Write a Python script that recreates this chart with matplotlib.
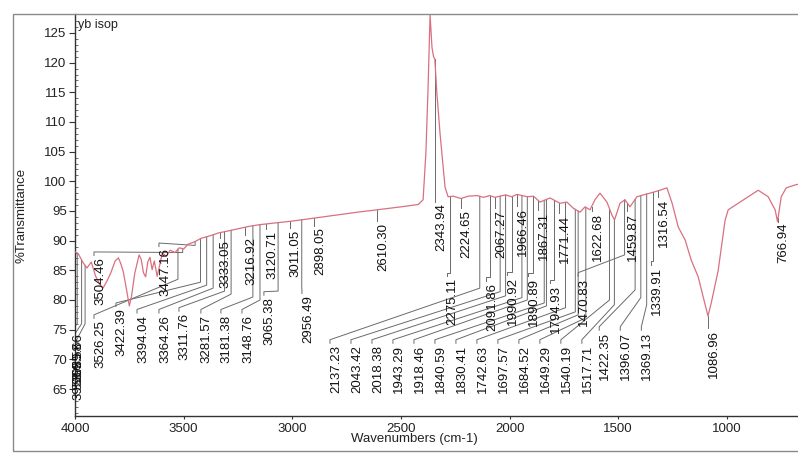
import numpy as np
import matplotlib
matplotlib.use("Agg")
import matplotlib.pyplot as plt
from matplotlib.patches import Rectangle

plt.rcParams['font.family'] = ['Liberation Sans', 'DejaVu Sans']

# ---------------- spectrum ----------------
wavenumber = [4000, 3985, 3963, 3945, 3925, 3905, 3885, 3871, 3850, 3835, 3815, 3800,
              3790, 3778, 3765, 3750, 3740, 3725, 3705, 3695, 3685, 3675, 3665, 3655,
              3645, 3635, 3622, 3610, 3598, 3580, 3562, 3540, 3520, 3500, 3480, 3450,
              3420, 3380, 3340, 3300, 3250, 3200, 3150, 3100, 3050, 3000, 2900, 2800,
              2700, 2610, 2500, 2420, 2398, 2385, 2375, 2366, 2357, 2350, 2344,
              2335, 2320, 2297, 2283, 2260, 2224, 2190, 2150, 2120, 2091, 2067,
              2043, 2018, 1990, 1966, 1943, 1918, 1890, 1860, 1814, 1768, 1736, 1708,
              1676, 1653, 1630, 1607, 1584, 1552, 1529, 1517, 1492, 1469, 1446, 1414,
              1386, 1354, 1308, 1276, 1252, 1224, 1192, 1164, 1132, 1109, 1087, 1072,
              1040, 1008, 994, 948, 902, 856, 810, 778, 767, 750, 727, 685, 673]
transmittance = [88.1, 87.8, 86.3, 85.4, 86.4, 84.0, 82.6, 82.0, 83.4, 84.6, 86.6, 87.1,
                 86.2, 84.8, 82.2, 79.0, 80.6, 84.5, 87.6, 86.8, 84.6, 83.9, 86.4, 87.2,
                 85.1, 86.6, 84.0, 85.9, 88.0, 87.3, 88.4, 88.0, 88.8, 88.6, 89.4, 89.8,
                 90.4, 90.8, 91.3, 91.6, 92.0, 92.4, 92.7, 92.9, 93.1, 93.3, 93.8, 94.3,
                 94.8, 95.2, 95.7, 96.1, 96.9, 105.0, 116.0, 128.0, 122.5, 121.0, 120.6,
                 115.0, 108.0, 99.0, 97.4, 97.5, 97.1, 97.5, 97.6, 97.3, 97.6, 97.3,
                 97.5, 97.7, 97.4, 97.8, 97.6, 97.4, 97.5, 96.5, 97.2, 96.3, 96.5, 95.5,
                 94.8, 95.7, 95.2, 96.9, 98.0, 96.5, 94.3, 93.5, 96.3, 96.9, 95.7, 97.4,
                 97.7, 98.0, 98.5, 98.9, 96.3, 92.3, 90.1, 86.7, 83.9, 80.5, 77.3, 79.5,
                 85.0, 93.5, 95.2, 96.3, 97.4, 98.5, 97.4, 95.2, 93.2, 97.4, 98.9, 99.4, 99.5]

# ---------------- peak tables ----------------
# peaks labelled right under the trace
upper_peaks = [3504.46, 3447.16, 3333.05, 3216.92, 3120.71, 3011.05, 2898.05, 2610.30,
               2343.94, 2224.65, 2067.27, 1966.46, 1867.31, 1771.44, 1622.68, 1459.87,
               1316.54, 1086.96, 766.94]
# second row in the middle of the spectrum
middle_peaks = [2275.11, 2091.86, 1990.92, 1890.89, 1794.93, 1470.83, 1339.91]
# bottom row, fanned out to the left
bottom_peaks = [2137.23, 2043.42, 2018.38, 1943.29, 1918.46, 1840.59, 1830.41, 1742.63,
                1697.57, 1684.52, 1649.29, 1540.19, 1517.71, 1422.35, 1396.07, 1369.13]
# second row in the O-H / C-H region
left_peaks = [3526.25, 3422.39, 3394.04, 3364.26, 3311.76, 3281.57, 3181.38, 3148.76,
              3065.38, 2956.49]
# crowded labels at the high-wavenumber edge
edge_peaks = [3989.66, 3969.58, 3953.55]

# ---------------- label layout (wavenumber of text centre, top of text, knee) ----------------
PX = 4.602          # cm-1 per pixel along x
OFF = 6 * PX        # text centre sits a few pixels right of its leader

upper_layout = {
    3504.46: (3885, 87.2, 88.0), 3447.16: (3586, 88.7, 89.2),
}
upper_top = [87.2, 88.7, 90.1, 90.6, 91.7, 91.8, 92.2, 93.0, 96.3, 95.2, 95.2, 95.5,
             94.8, 94.4, 94.7, 94.7, 97.0, 75.0, 93.0]

middle_x = [2262, 2081, 1984, 1888, 1787, 1657, 1322]
middle_top = [83.7, 82.9, 83.9, 83.7, 82.5, 83.7, 85.6]
middle_knee = [None, None, None, None, None, 87.6, None]

bottom_x = [2799 - i * 96.6 for i in range(13)] + [1560, 1463, 1366]
bottom_top = [72.4] * 13 + [74.6] * 3
bottom_knee = [82.0, 81.4, 80.7, 80.4, 80.0, 79.5, 79.0, 78.7, 78.0, 77.5, 77.0,
               80.0, 79.2, 81.7, 80.4, 79.2]

left_x = [3885, 3784, 3687, 3586, 3494, 3393, 3301, 3204, 3103, 2928]
left_top = [76.6, 78.6, 77.5, 77.5, 77.8, 77.5, 77.5, 77.5, 80.5, 80.8]
left_knee = [83.5, 83.0, 82.5, 82.0, 81.5, 81.0, 80.5, 80.0, 81.5, 82.0]

edge_x = [3982, 3982, 3982]
edge_top = [74.4, 72.9, 71.2]

# ---------------- figure ----------------
fig = plt.figure(figsize=(7.98, 4.54), dpi=100)
ax = fig.add_axes([75 / 798, 38 / 454, 723 / 798, 402 / 454])

ax.plot(wavenumber, transmittance, color='#d9707f', lw=0.9, zorder=3)

ax.set_xlim(4000, 4000 - 723 * PX)
ax.set_ylim(60.45, 128.2)

lead = dict(color='#6a6a6a', lw=0.7, zorder=2)
txt = dict(rotation=90, ha='center', va='top', fontsize=9.5, color='#111111', zorder=4)


def curve_at(w):
    return float(np.interp(w, wavenumber[::-1], transmittance[::-1]))


def leader(peak, knee, lx, top):
    xs = [peak, peak, lx + OFF, lx + OFF]
    ys = [curve_at(peak), knee, top + 0.9, top + 0.3]
    ax.plot(xs, ys, **lead)


for p, top in zip(upper_peaks, upper_top):
    if p in upper_layout:
        lx, top, knee = upper_layout[p]
    else:
        lx, knee = p - OFF, top + 0.9
    leader(p, knee, lx, top)
    ax.text(lx, top, f"{p:.2f}", **txt)

for p, lx, top, knee in zip(middle_peaks, middle_x, middle_top, middle_knee):
    leader(p, knee if knee is not None else top + 0.9, lx, top)
    ax.text(lx, top, f"{p:.2f}", **txt)

for p, lx, top, knee in zip(bottom_peaks, bottom_x, bottom_top, bottom_knee):
    leader(p, knee, lx, top)
    ax.text(lx, top, f"{p:.2f}", **txt)

for p, lx, top, knee in zip(left_peaks, left_x, left_top, left_knee):
    leader(p, knee, lx, top)
    ax.text(lx, top, f"{p:.2f}", **txt)

for p, lx, top in zip(edge_peaks, edge_x, edge_top):
    leader(p, 76.0, lx, top)
    ax.text(lx, top, f"{p:.2f}", **txt)

# axes styling
for s in ('top', 'right'):
    ax.spines[s].set_visible(False)
for s in ('left', 'bottom'):
    ax.spines[s].set_color('#333333')
    ax.spines[s].set_linewidth(1.0)
ax.set_yticks(np.arange(65, 126, 5))
ax.set_yticks(np.arange(61, 128, 1), minor=True)
ax.set_xticks([4000, 3500, 3000, 2500, 2000, 1500, 1000])
ax.tick_params(axis='y', which='major', direction='out', length=4, labelsize=9.5,
               colors='#333333', labelcolor='#222222', pad=2)
ax.tick_params(axis='y', which='minor', direction='in', length=2.5, colors='#555555')
ax.tick_params(axis='x', which='major', direction='out', length=2, labelsize=9.5,
               colors='#333333', labelcolor='#222222', pad=3)

ax.set_xlabel('Wavenumbers (cm-1)', fontsize=9.5, color='#222222')
ax.xaxis.set_label_coords(0.47, -0.043)
ax.set_ylabel('%Transmittance', fontsize=9.5, color='#222222')
ax.yaxis.set_label_coords(-0.066, 0.5)
ax.text(0.004, 0.972, 'yb isop', transform=ax.transAxes, fontsize=9, color='#222222',
        ha='left', va='center')

# outer frame of the printout
fig.patches.append(Rectangle((13 / 798, 3 / 454), 800 / 798, 437 / 454,
                             transform=fig.transFigure, fill=False,
                             edgecolor='#8a8a8a', lw=1.0))

fig.savefig('out.png', dpi=100)
